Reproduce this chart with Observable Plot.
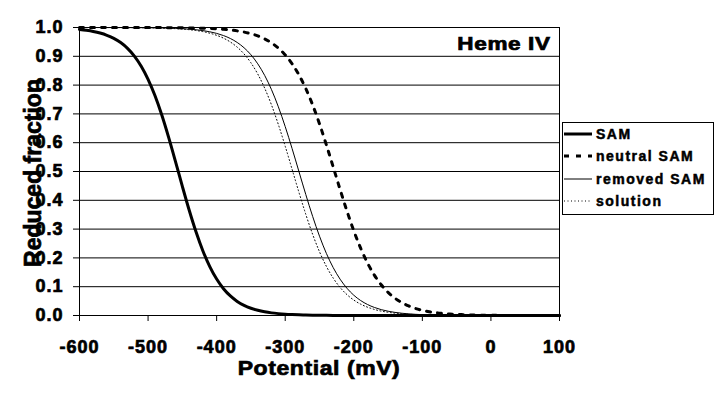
<!DOCTYPE html>
<html><head><meta charset="utf-8">
<script src="https://cdn.jsdelivr.net/npm/d3@7"></script>
<script src="https://cdn.jsdelivr.net/npm/@observablehq/plot@0.6"></script>
<style>
body{margin:0;background:#fff;font-family:Arial,"Liberation Sans",sans-serif;color:#000;}
#wrap{position:relative;width:720px;height:395px;overflow:hidden;}
#chart svg text{letter-spacing:1px;stroke:#000;stroke-width:0.7px;}
#legend text{stroke:#000;stroke-width:0.5px;}
.lbl{position:absolute;white-space:nowrap;font-weight:bold;line-height:1;-webkit-text-stroke:0.7px #000;}
</style></head>
<body><div id="wrap"><div id="chart"></div></div>
<script>
const potential = [-600,-590,-580,-570,-560,-550,-540,-530,-520,-510,-500,-490,-480,-470,-460,-450,-440,-430,-420,-410,-400,-390,-380,-370,-360,-350,-340,-330,-320,-310,-300,-290,-280,-270,-260,-250,-240,-230,-220,-210,-200,-190,-180,-170,-160,-150,-140,-130,-120,-110,-100,-90,-80,-70,-60,-50,-40,-30,-20,-10,0,10,20,30,40,50,60,70,80,90,100];
const sam = [0.9931,0.9902,0.9863,0.9808,0.9730,0.9624,0.9477,0.9277,0.9009,0.8656,0.8201,0.7636,0.6959,0.6184,0.5345,0.4484,0.3655,0.2898,0.2242,0.1699,0.1266,0.0931,0.0678,0.0490,0.0352,0.0252,0.0180,0.0128,0.0091,0.0065,0.0046,0.0033,0.0023,0.0016,0.0012,0.0008,0.0006,0.0004,0.0003,0.0002,0.0002,0.0001,0.0001,0.0001,0,0,0,0,0,0,0,0,0,0,0,0,0,0,0,0,0,0,0,0,0,0,0,0,0,0,0];
const neutralSam = [1.0000,1.0000,1.0000,1.0000,0.9999,0.9999,0.9999,0.9999,0.9998,0.9998,0.9998,0.9997,0.9996,0.9995,0.9993,0.9990,0.9987,0.9982,0.9975,0.9966,0.9954,0.9937,0.9914,0.9883,0.9841,0.9784,0.9707,0.9604,0.9466,0.9284,0.9047,0.8741,0.8355,0.7880,0.7311,0.6654,0.5927,0.5156,0.4378,0.3630,0.2942,0.2337,0.1824,0.1403,0.1067,0.0804,0.0601,0.0447,0.0331,0.0244,0.0180,0.0132,0.0097,0.0071,0.0052,0.0038,0.0028,0.0020,0.0015,0.0011,0.0008,0.0006,0.0004,0.0003,0.0002,0.0002,0.0001,0.0001,0.0001,0,0];
const removedSam = [0.9999,0.9999,0.9999,0.9999,0.9999,0.9998,0.9998,0.9997,0.9996,0.9994,0.9992,0.9989,0.9985,0.9979,0.9970,0.9959,0.9943,0.9921,0.9892,0.9851,0.9796,0.9720,0.9618,0.9480,0.9296,0.9053,0.8738,0.8338,0.7842,0.7246,0.6559,0.5799,0.5000,0.4201,0.3441,0.2754,0.2158,0.1662,0.1262,0.0947,0.0704,0.0520,0.0382,0.0280,0.0204,0.0149,0.0108,0.0079,0.0057,0.0041,0.0030,0.0022,0.0016,0.0011,0.0008,0.0006,0.0004,0.0003,0.0002,0.0002,0.0001,0.0001,0.0001,0,0,0,0,0,0,0,0];
const solution = [0.9999,0.9999,0.9999,0.9999,0.9998,0.9998,0.9997,0.9996,0.9994,0.9992,0.9989,0.9985,0.9979,0.9971,0.9960,0.9945,0.9924,0.9895,0.9856,0.9802,0.9729,0.9630,0.9496,0.9317,0.9080,0.8773,0.8382,0.7896,0.7311,0.6631,0.5878,0.5080,0.4279,0.3514,0.2818,0.2213,0.1707,0.1298,0.0975,0.0726,0.0536,0.0394,0.0289,0.0211,0.0153,0.0112,0.0081,0.0059,0.0043,0.0031,0.0022,0.0016,0.0012,0.0009,0.0006,0.0005,0.0003,0.0002,0.0002,0.0001,0.0001,0.0001,0,0,0,0,0,0,0,0,0];
const xTicks = [-600,-500,-400,-300,-200,-100,0,100];
const yTicks = [0,0.1,0.2,0.3,0.4,0.5,0.6,0.7,0.8,0.9,1.0];
const seriesNames = ["SAM","neutral SAM","removed SAM","solution"];
const title = "Heme IV";
const xLabel = "Potential (mV)";
const yLabel = "Reduced fraction";

const styles = [
  {strokeWidth:3, strokeDasharray:null},
  {strokeWidth:3, strokeDasharray:"4,7"},
  {strokeWidth:1, strokeDasharray:null},
  {strokeWidth:1, strokeDasharray:"1,2.5"}
];
const seriesValues = [sam, neutralSam, removedSam, solution];

const lineMarks = seriesValues.map((vals, k) =>
  Plot.line(potential, {x: d => d, y: (d, i) => vals[i], stroke: "#000",
    strokeWidth: styles[k].strokeWidth, strokeDasharray: styles[k].strokeDasharray,
    curve: "monotone-x"}));

const chart = Plot.plot({
  width: 720, height: 395,
  marginLeft: 79, marginRight: 161, marginTop: 27, marginBottom: 80,
  x: {domain: [-600, 100]},
  y: {domain: [0, 1]},
  style: {fontFamily: "Arial, 'Liberation Sans', sans-serif", fontSize: "18px", fontWeight: "bold", color: "#000", background: "#fff", overflow: "visible"},
  marks: [
    Plot.ruleY(yTicks, {stroke: "#000", strokeWidth: 1}),
    Plot.ruleX([-600, 100], {stroke: "#000", strokeWidth: 1}),
    Plot.axisY(yTicks, {tickSize: 6, tickPadding: 10, tickFormat: d => d.toFixed(1), label: null}),
    Plot.axisX(xTicks, {tickSize: 6, tickPadding: 19, tickFormat: d => String(d), label: null}),
    ...lineMarks
  ]
});
const wrap = document.getElementById("wrap");
document.getElementById("chart").appendChild(chart);

function addLabel(text, css) {
  const d = document.createElement("div");
  d.className = "lbl";
  d.textContent = text;
  Object.assign(d.style, css);
  wrap.appendChild(d);
}
// Title (top-right inside plot)
addLabel(title, {right: (720 - 551) + "px", top: "35px", fontSize: "18px", letterSpacing: "0.5px", transform: "scaleX(1.25)", transformOrigin: "right center"});
// X axis label
addLabel(xLabel, {left: "319px", top: "358px", fontSize: "20px", letterSpacing: "0.5px", transform: "translateX(-50%) scaleX(1.15)", transformOrigin: "center"});
// Y axis label
addLabel(yLabel, {left: "33px", top: "173px", fontSize: "23px", transform: "translate(-50%,-50%) rotate(-90deg)", transformOrigin: "center"});

// Legend
const ns = "http://www.w3.org/2000/svg";
const lg = document.createElementNS(ns, "svg");
lg.setAttribute("id", "legend");
lg.setAttribute("width", 720); lg.setAttribute("height", 395);
lg.style.position = "absolute"; lg.style.left = "0"; lg.style.top = "0";
const box = document.createElementNS(ns, "rect");
Object.entries({x: 562.5, y: 122.5, width: 151, height: 92, fill: "#fff", stroke: "#000", "stroke-width": 1}).forEach(([k, v]) => box.setAttribute(k, v));
lg.appendChild(box);
const rowY = [134, 156, 179, 201];
seriesNames.forEach((name, k) => {
  const ln = document.createElementNS(ns, "line");
  Object.entries({x1: 564, x2: 592, y1: rowY[k], y2: rowY[k], stroke: "#000", "stroke-width": styles[k].strokeWidth}).forEach(([a, v]) => ln.setAttribute(a, v));
  if (styles[k].strokeDasharray) ln.setAttribute("stroke-dasharray", k === 1 ? "5,7" : "1,2.5");
  lg.appendChild(ln);
  const t = document.createElementNS(ns, "text");
  t.setAttribute("x", 596); t.setAttribute("y", rowY[k] + 5);
  t.setAttribute("font-size", "14px"); t.setAttribute("font-weight", "bold");
  t.setAttribute("font-family", "Arial, 'Liberation Sans', sans-serif");
  t.setAttribute("letter-spacing", "1.5px");
  t.textContent = name;
  lg.appendChild(t);
});
wrap.appendChild(lg);
</script>
</body></html>
